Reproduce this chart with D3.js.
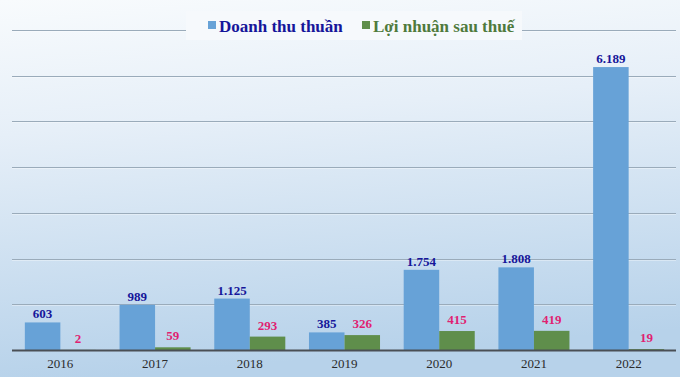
<!DOCTYPE html>
<html>
<head>
<meta charset="utf-8">
<script src="https://cdn.jsdelivr.net/npm/d3@7"></script>
<style>
  body { margin: 0; }
  svg { display: block; }
  svg text { font-family: "Liberation Serif", "Times New Roman", serif; }
</style>
</head>
<body>
<svg width="680" height="377"></svg>
<script>
// chart data
var years = ["2016", "2017", "2018", "2019", "2020", "2021", "2022"];
var doanhThu = [603, 989, 1125, 385, 1754, 1808, 6189]; // doanh thu thuần
var loiNhuan = [2, 59, 293, 326, 415, 419, 19];        // lợi nhuận sau thuế
var gridTicks = [1000, 2000, 3000, 4000, 5000, 6000, 7000];
var seriesNames = ["Doanh thu thuần", "Lợi nhuận sau thuế"];

var pic = d3.select("svg");
var width = +pic.attr("width");
var height = +pic.attr("height");

// background gradient
var defs = pic.append("defs");
var grad = defs.append("linearGradient").attr("id", "bg")
  .attr("x1", 0).attr("y1", 0).attr("x2", 0.15).attr("y2", 1);
grad.append("stop").attr("offset", "0%").attr("stop-color", "#f8fbfd");
grad.append("stop").attr("offset", "35%").attr("stop-color", "#e6eff8");
grad.append("stop").attr("offset", "100%").attr("stop-color", "#b7d2ea");
pic.append("rect").attr("width", width).attr("height", height).attr("fill", "url(#bg)");

var x = d3.scaleBand().domain(years).range([13, 676]).paddingInner(0.25).paddingOuter(0.125);
var xs = d3.scaleBand().domain([0, 1]).range([0, x.bandwidth()]);
var y = d3.scaleLinear().domain([0, 7000]).range([350, 30]);

// gridlines (soft gray with a faint light line under each)
var grid = pic.append("g");
grid.selectAll("line.hi").data(gridTicks).join("line").attr("class", "hi")
  .attr("x1", 12).attr("x2", 676)
  .attr("y1", function(d) { return Math.round(y(d)) + 1.5; })
  .attr("y2", function(d) { return Math.round(y(d)) + 1.5; })
  .attr("stroke", "#ffffff").attr("stroke-opacity", 0.35).attr("stroke-width", 1);
grid.selectAll("line.ln").data(gridTicks).join("line").attr("class", "ln")
  .attr("x1", 12).attr("x2", 676)
  .attr("y1", function(d) { return Math.round(y(d)) + 0.5; })
  .attr("y2", function(d) { return Math.round(y(d)) + 0.5; })
  .attr("stroke", "#9aabba").attr("stroke-width", 1);

// bars
var colors = ["#67a2d7", "#5f8e4b"];
var labelColors = ["#16169a", "#e01f72"];
var all = [doanhThu, loiNhuan];

all.forEach(function(series, s) {
  pic.append("g").selectAll("rect").data(series).join("rect")
    .attr("x", function(d, i) { return x(years[i]) + xs(s); })
    .attr("width", xs.bandwidth())
    .attr("y", function(d) { return y(d); })
    .attr("height", function(d) { return y(0) - y(d); })
    .attr("fill", colors[s]);

  pic.append("g").selectAll("text").data(series).join("text")
    .attr("x", function(d, i) { return x(years[i]) + xs(s) + xs.bandwidth() / 2; })
    .attr("y", function(d) { return y(d) - (s == 0 ? 4 : 7); })
    .attr("text-anchor", "middle")
    .attr("font-weight", "bold")
    .attr("font-size", 13)
    .attr("fill", labelColors[s])
    .text(function(d) { return d3.format(",")(d).replace(/,/g, "."); });
});

// baseline
pic.append("line").attr("x1", 12).attr("x2", 676)
  .attr("y1", y(0) + 0.5).attr("y2", y(0) + 0.5)
  .attr("stroke", "#4a4f55").attr("stroke-width", 2);

// x axis labels
var xAxis = pic.append("g").attr("transform", "translate(0," + y(0) + ")")
  .call(d3.axisBottom(x).tickSize(0).tickPadding(9));
xAxis.select(".domain").remove();
xAxis.attr("font-family", null);
xAxis.selectAll("text")
  .attr("font-size", 13)
  .attr("fill", "#2b2b2b");

// legend
pic.append("rect").attr("x", 186).attr("y", 11).attr("width", 336).attr("height", 29)
  .attr("fill", "#f6f9fc");
var legendX = [208, 362];
var legendText = ["#16169a", "#4f7a3c"];
seriesNames.forEach(function(name, s) {
  pic.append("rect").attr("x", legendX[s]).attr("y", 21).attr("width", 8).attr("height", 8)
    .attr("fill", colors[s]);
  pic.append("text").attr("x", legendX[s] + 11).attr("y", 32)
    .attr("font-weight", "bold")
    .attr("font-size", 17)
    .attr("fill", legendText[s])
    .text(name);
});
</script>
</body>
</html>
